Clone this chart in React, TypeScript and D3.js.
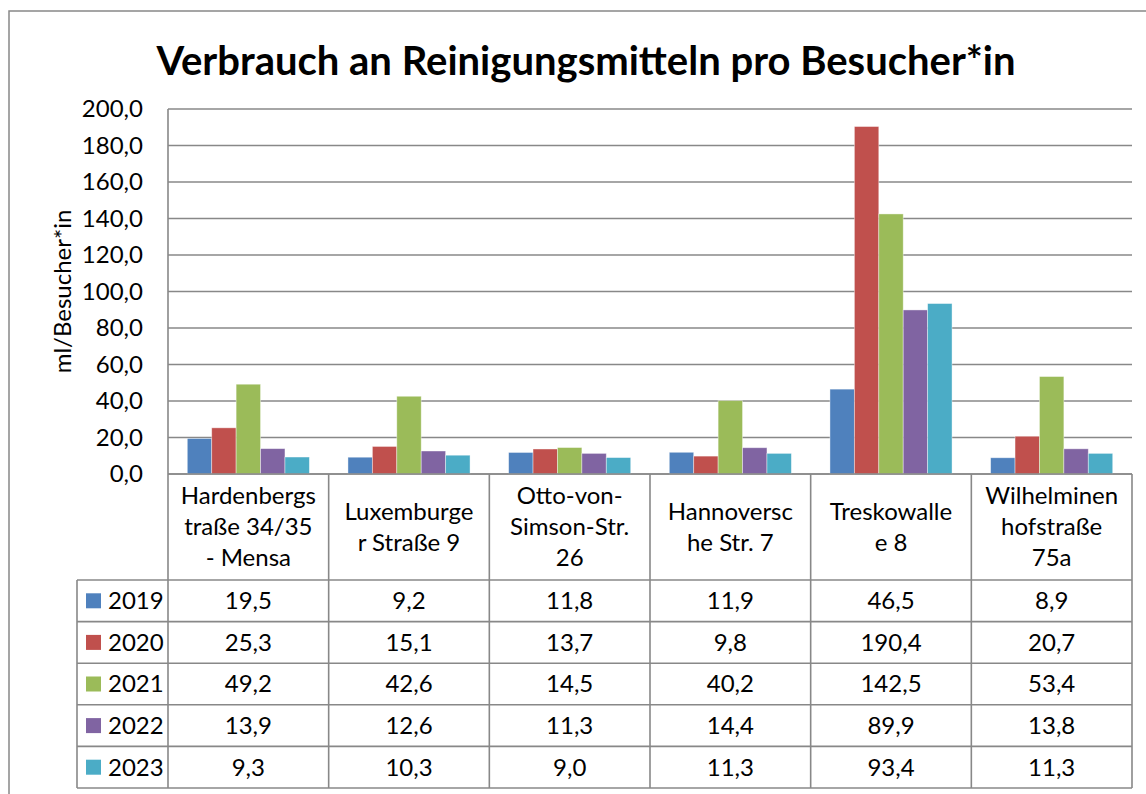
import React from "react";
import * as d3 from "d3";

const categories: string[][] = [
  ["Hardenbergs", "traße 34/35", "- Mensa"],
  ["Luxemburge", "r Straße 9"],
  ["Otto-von-", "Simson-Str.", "26"],
  ["Hannoversc", "he Str. 7"],
  ["Treskowalle", "e 8"],
  ["Wilhelminen", "hofstraße", "75a"],
];
const seriesNames = ["2019", "2020", "2021", "2022", "2023"];
const seriesColors = ["#4F81BD", "#C0504D", "#9BBB59", "#8064A2", "#4BACC6"];
const v2019 = [19.5, 9.2, 11.8, 11.9, 46.5, 8.9];
const v2020 = [25.3, 15.1, 13.7, 9.8, 190.4, 20.7];
const v2021 = [49.2, 42.6, 14.5, 40.2, 142.5, 53.4];
const v2022 = [13.9, 12.6, 11.3, 14.4, 89.9, 13.8];
const v2023 = [9.3, 10.3, 9.0, 11.3, 93.4, 11.3];
const seriesValues = [v2019, v2020, v2021, v2022, v2023];
const yTicks = [0, 20, 40, 60, 80, 100, 120, 140, 160, 180, 200];

const title = "Verbrauch an Reinigungsmitteln pro Besucher*in";
const yTitle = "ml/Besucher*in";

const W = 1146;
const H = 794;
const left = 168;
const right = 1132;
const top = 109;
const bottom = 474;
const labelRowBottom = 580;
const rowH = 41.6;
const legendLeft = 77;
const grid = "#888888";
const font = "Lato, 'Open Sans', sans-serif";

const fmt = (v: number) => d3.format(".1f")(v).replace(".", ",");

export default function App() {
  const y = d3.scaleLinear().domain([0, 200]).range([bottom, top]);
  const x = d3
    .scaleBand<number>()
    .domain(categories.map((_, i) => i))
    .range([left, right])
    .padding(0);
  const xi = d3
    .scaleBand<number>()
    .domain(seriesNames.map((_, i) => i))
    .range([0, x.bandwidth()])
    .paddingInner(0)
    .paddingOuter(0.79);

  const tableBottom = labelRowBottom + rowH * seriesNames.length;

  return (
    <svg
      width={W}
      height={H}
      style={{ position: "absolute", left: 0, top: 0, background: "#fff" }}
      fontFamily={font}
    >
      <rect x={9} y={11} width={1300} height={900} fill="#fff" stroke={grid} strokeWidth={1.5} />
      <text x={586} y={75} textAnchor="middle" fontSize={40} fontWeight="bold" fill="#000">
        {title}
      </text>
      <text
        transform={`translate(63,${(top + bottom) / 2}) rotate(-90)`}
        textAnchor="middle"
        dy="0.35em"
        fontSize={24}
        fill="#000"
      >
        {yTitle}
      </text>
      {/* gridlines */}
      {yTicks.map((t) => (
        <g key={t}>
          <line x1={left} x2={right} y1={y(t)} y2={y(t)} stroke={grid} strokeWidth={1.6} />
          <text x={143} y={y(t)} dy="0.35em" textAnchor="end" fontSize={24} fill="#000">
            {fmt(t)}
          </text>
        </g>
      ))}
      {/* bars */}
      {seriesValues.map((vals, s) =>
        vals.map((v, c) => (
          <rect
            key={`${s}-${c}`}
            x={(x(c) as number) + (xi(s) as number)}
            y={y(v)}
            width={xi.bandwidth()}
            height={bottom - y(v)}
            fill={seriesColors[s]}
            stroke="#ffffff"
            strokeOpacity={0.5}
            strokeWidth={0.8}
          />
        ))
      )}
      {/* axis + table lines */}
      <line x1={left} x2={left} y1={top} y2={tableBottom} stroke={grid} strokeWidth={1.6} />
      <line x1={left} x2={right} y1={bottom} y2={bottom} stroke={grid} strokeWidth={1.6} />
      {categories.map((_, i) => (
        <line
          key={`v${i}`}
          x1={(x(i) as number) + x.bandwidth()}
          x2={(x(i) as number) + x.bandwidth()}
          y1={bottom}
          y2={tableBottom}
          stroke={grid}
          strokeWidth={1.6}
        />
      ))}
      <line x1={legendLeft} x2={legendLeft} y1={labelRowBottom} y2={tableBottom} stroke={grid} strokeWidth={1.6} />
      {seriesNames.concat([""]).map((_, r) => (
        <line
          key={`h${r}`}
          x1={legendLeft}
          x2={right}
          y1={labelRowBottom + r * rowH}
          y2={labelRowBottom + r * rowH}
          stroke={grid}
          strokeWidth={1.6}
        />
      ))}
      {/* category labels */}
      {categories.map((lines, i) => {
        const cx = (x(i) as number) + x.bandwidth() / 2;
        const cy = (bottom + labelRowBottom) / 2;
        const lh = 31;
        return (
          <text key={`c${i}`} textAnchor="middle" fontSize={24} fill="#000">
            {lines.map((l, k) => (
              <tspan key={k} x={cx} y={cy + (k - (lines.length - 1) / 2) * lh} dy="0.35em">
                {l}
              </tspan>
            ))}
          </text>
        );
      })}
      {/* table rows */}
      {seriesNames.map((name, s) => {
        const cy = labelRowBottom + (s + 0.5) * rowH;
        return (
          <g key={`r${s}`}>
            <rect x={86} y={cy - 7.5} width={15} height={15} fill={seriesColors[s]} />
            <text x={108} y={cy} dy="0.35em" fontSize={24} fill="#000">
              {name}
            </text>
            {seriesValues[s].map((v, c) => (
              <text
                key={c}
                x={(x(c) as number) + x.bandwidth() / 2}
                y={cy}
                dy="0.35em"
                textAnchor="middle"
                fontSize={24}
                fill="#000"
              >
                {fmt(v)}
              </text>
            ))}
          </g>
        );
      })}
    </svg>
  );
}
